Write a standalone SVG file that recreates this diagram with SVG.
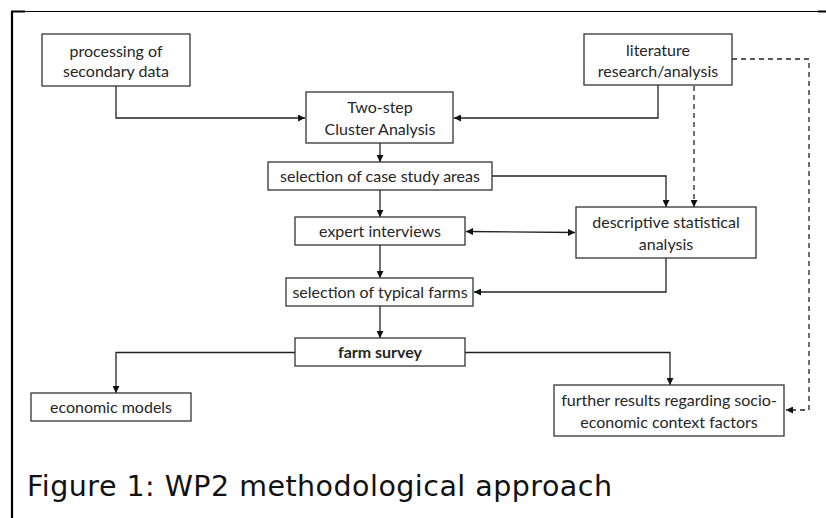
<svg xmlns="http://www.w3.org/2000/svg" width="826" height="518" viewBox="0 0 826 518">
<style>
.box{fill:#fff;stroke:#333;stroke-width:1.3}
.t{font-family:Lato,"Open Sans","Liberation Sans",sans-serif;font-size:16px;fill:#262626;text-anchor:middle}
.c{fill:none;stroke:#222;stroke-width:1.3}
.d{fill:none;stroke:#222;stroke-width:1.3;stroke-dasharray:5,4}
</style>
<defs>
<marker id="ah" viewBox="0 0 10 10" refX="10" refY="5" markerWidth="7" markerHeight="7" markerUnits="userSpaceOnUse" orient="auto-start-reverse">
<path d="M0,0 L10,5 L0,10 z" fill="#111"/>
</marker>
</defs>
<rect width="826" height="518" fill="#fff"/>
<g id="frame">
<line x1="12" y1="11" x2="12" y2="518" stroke="#000" stroke-width="2.2"/>
<line x1="11" y1="11.5" x2="826" y2="11.5" stroke="#000" stroke-width="1"/>
<line x1="11" y1="11.5" x2="25" y2="11.5" stroke="#000" stroke-width="2"/>
<line x1="818" y1="11.5" x2="826" y2="11.5" stroke="#000" stroke-width="2"/>
</g>
<g id="connectors">
<path class="c" d="M116,86 V118 H305" marker-end="url(#ah)"/>
<path class="c" d="M658,85 V118 H454" marker-end="url(#ah)"/>
<path class="c" d="M380,143 V162" marker-end="url(#ah)"/>
<path class="c" d="M492,176 H666 V207" marker-end="url(#ah)"/>
<path class="d" d="M694,86 V207" marker-end="url(#ah)"/>
<path class="d" d="M732,59 H809 V410 H786" marker-end="url(#ah)"/>
<path class="c" d="M380,190 V217" marker-end="url(#ah)"/>
<path class="c" d="M466,231.5 L575,232.5" marker-start="url(#ah)" marker-end="url(#ah)"/>
<path class="c" d="M380,245 V278" marker-end="url(#ah)"/>
<path class="c" d="M666,258 V292 H474" marker-end="url(#ah)"/>
<path class="c" d="M380,306 V338" marker-end="url(#ah)"/>
<path class="c" d="M295,352.5 H116 V393" marker-end="url(#ah)"/>
<path class="c" d="M465,352.5 H670 V385" marker-end="url(#ah)"/>
</g>
<g id="processing">
<rect class="box" x="42" y="34" width="148" height="52"/>
<text class="t" x="116" y="56.5">processing of</text>
<text class="t" x="116" y="76.5">secondary data</text>
</g>
<g id="literature">
<rect class="box" x="584" y="34" width="148" height="51"/>
<text class="t" x="658" y="56">literature</text>
<text class="t" x="658" y="76.5">research/analysis</text>
</g>
<g id="cluster">
<rect class="box" x="306" y="92" width="147" height="51"/>
<text class="t" x="380" y="113">Two-step</text>
<text class="t" x="380" y="135">Cluster Analysis</text>
</g>
<g id="case-study">
<rect class="box" x="268" y="162" width="224" height="28"/>
<text class="t" x="380" y="182">selection of case study areas</text>
</g>
<g id="descriptive">
<rect class="box" x="576" y="207" width="180" height="51"/>
<text class="t" x="666" y="228">descriptive statistical</text>
<text class="t" x="666" y="250">analysis</text>
</g>
<g id="expert">
<rect class="box" x="295" y="217" width="170" height="28"/>
<text class="t" x="380" y="237">expert interviews</text>
</g>
<g id="typical">
<rect class="box" x="286" y="278" width="187" height="28"/>
<text class="t" x="380" y="298">selection of typical farms</text>
</g>
<g id="survey">
<rect class="box" x="295" y="338" width="170" height="28"/>
<text class="t" x="380" y="358" font-weight="bold">farm survey</text>
</g>
<g id="economic">
<rect class="box" x="31" y="393" width="160" height="28"/>
<text class="t" x="111" y="413">economic models</text>
</g>
<g id="further">
<rect class="box" x="554" y="385" width="230" height="51"/>
<text class="t" x="669" y="406">further results regarding socio-</text>
<text class="t" x="669" y="428">economic context factors</text>
</g>
<text x="27" y="496" font-family="'DejaVu Sans',Verdana,sans-serif" font-size="28.5" fill="#111" textLength="585" lengthAdjust="spacing">Figure 1: WP2 methodological approach</text>
</svg>
